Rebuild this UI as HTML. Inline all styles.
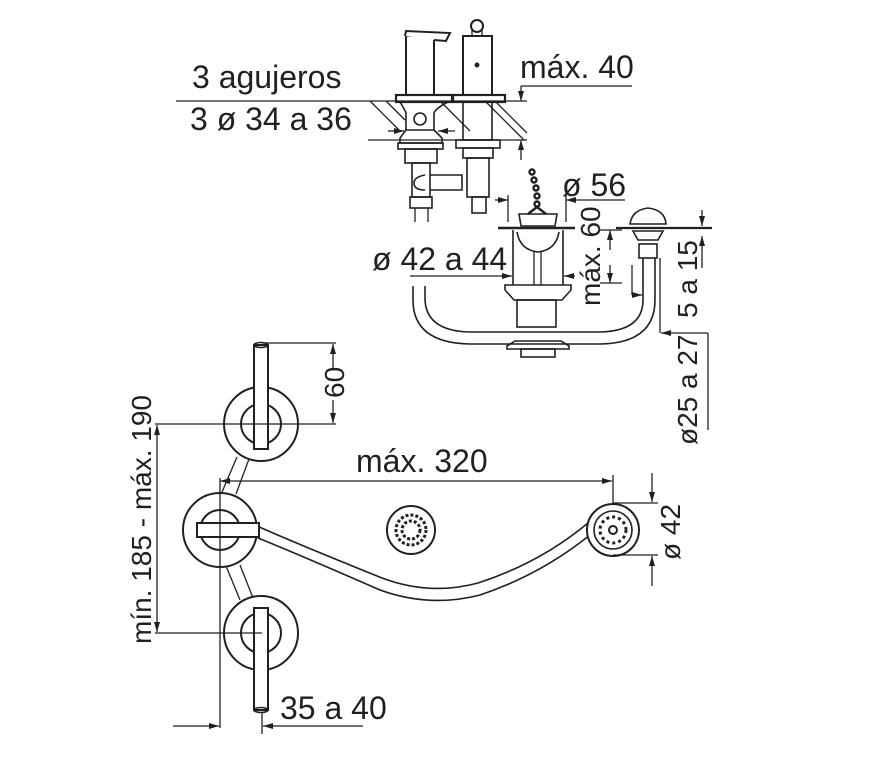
<!DOCTYPE html>
<html><head><meta charset="utf-8"><style>
html,body{margin:0;padding:0;background:#fff}
svg{display:block}
text{font-family:"Liberation Sans",sans-serif;fill:#231f20}
</style></head><body>
<svg width="870" height="768" viewBox="0 0 870 768" xmlns="http://www.w3.org/2000/svg">
<defs>
<marker id="a" viewBox="0 0 10 6" refX="10" refY="3" markerWidth="10" markerHeight="6" orient="auto-start-reverse" markerUnits="userSpaceOnUse"><path d="M0,0 L10,3 L0,6 z" fill="#231f20"/></marker>
</defs>
<g stroke="#231f20" fill="none" stroke-width="1.3">
<line x1="176" y1="101" x2="527" y2="101"/>
<line x1="368" y1="140" x2="527" y2="140"/>
<line x1="370" y1="101" x2="400" y2="131"/>
<line x1="386" y1="101" x2="405" y2="120"/>
<line x1="440" y1="101" x2="470" y2="131"/>
<line x1="495" y1="101" x2="527" y2="133"/>
<line x1="485" y1="101" x2="524" y2="140"/>
<line x1="388" y1="131" x2="404" y2="131" marker-end="url(#a)"/>
<line x1="455" y1="131" x2="438" y2="131" marker-end="url(#a)"/>
<rect x="406" y="36" width="28" height="59" stroke-width="2"/>
<path d="M405,36 L406,31 L450,33 L446,41 L434,40" stroke-width="2" fill="#fff"/>
<rect x="396" y="95" width="56" height="7" stroke-width="2.2"/>
<path d="M400,102 Q405,110 406,113 L406,130 L434,130 L434,113 Q436,108 448,102" stroke-width="1.6"/>
<circle cx="420" cy="119" r="6" stroke-width="1.6"/>
<path d="M406,130 L400,138 L400,143 L442,143 L442,138 L434,130" stroke-width="1.6"/>
<rect x="398" y="143" width="45" height="6" stroke-width="1.6"/>
<rect x="405" y="149" width="32" height="14" stroke-width="1.6"/>
<rect x="412" y="163" width="18" height="34" stroke-width="1.6"/>
<path d="M430,175 L462,175 L462,190 L430,190" stroke-width="1.6"/>
<path d="M425,175 Q414,177 414,183 Q414,190 425,190" stroke-width="1.6"/>
<rect x="410" y="197" width="22" height="11" stroke-width="1.6"/>
<line x1="415" y1="208" x2="415" y2="222"/><line x1="428" y1="208" x2="428" y2="222"/>
<rect x="463" y="36" width="29" height="59" stroke-width="2"/>
<circle cx="477" cy="26" r="6" stroke-width="2"/>
<line x1="472" y1="30" x2="472" y2="36"/><line x1="482" y1="30" x2="482" y2="36"/>
<circle cx="477" cy="65" r="1.8" fill="#231f20"/>
<rect x="453" y="95" width="52" height="7" stroke-width="2.2"/>
<rect x="463" y="102" width="29" height="38" stroke-width="1.6"/>
<rect x="456" y="140" width="44" height="8" stroke-width="1.6"/>
<rect x="463" y="148" width="30" height="10" stroke-width="1.6"/>
<rect x="467" y="158" width="22" height="39" stroke-width="1.6"/>
<rect x="472" y="197" width="14" height="16" stroke-width="1.6"/>
<line x1="632" y1="86" x2="521" y2="86"/>
<line x1="521" y1="86" x2="521" y2="101" marker-end="url(#a)"/>
<line x1="521" y1="160" x2="521" y2="140" marker-end="url(#a)"/>
<line x1="495" y1="200" x2="508" y2="200" marker-end="url(#a)"/>
<line x1="625" y1="200" x2="566" y2="200" marker-end="url(#a)"/>
<line x1="508" y1="195" x2="508" y2="222"/><line x1="566" y1="195" x2="566" y2="222"/>
<line x1="498" y1="228" x2="575" y2="228" stroke-width="2.5"/>
<path d="M513,230 L513,285 M563,230 L563,285" stroke-width="1.6"/>
<path d="M517,232 Q520,250 538,252 Q556,250 559,232" stroke-width="1.6"/>
<line x1="534" y1="252" x2="534" y2="285"/><line x1="541" y1="252" x2="541" y2="285"/>
<path d="M519,214 L557,214 L555,226 L521,226 Z" stroke-width="1.6"/>
<g stroke-width="2.4"><circle cx="532" cy="172" r="2.5"/><circle cx="534" cy="180" r="2.5"/><circle cx="536" cy="188" r="2.5"/><circle cx="537" cy="196" r="2.5"/><circle cx="537" cy="204" r="2.5"/><path d="M537,207 L528,214 M537,207 L546,214"/></g>
<line x1="410" y1="276" x2="512" y2="276" marker-end="url(#a)"/>
<line x1="575" y1="276" x2="564" y2="276" marker-end="url(#a)"/>
<path d="M505,285 L571,285 L571,290 L562,300 L514,300 L505,290 Z" stroke-width="1.6"/>
<rect x="517" y="300" width="39" height="27" stroke-width="1.6"/>
<path d="M515,341 L507,346 L507,349 L569,349 L569,346 L561,341 Z" stroke-width="1.6"/>
<rect x="521" y="349" width="34" height="8" stroke-width="1.6"/>
<path d="M413,286 L413,300 Q413,343 470,344 L600,344 Q655,343 655,300 L655,258" stroke-width="1.6"/>
<path d="M425,286 L425,298 Q425,331 470,332 L600,332 Q643,331 643,300 L643,258" stroke-width="1.6"/>
<path d="M630,224 Q632,210 648,208 Q665,210 666,224 Z" stroke-width="1.6"/>
<line x1="616" y1="228" x2="712" y2="228" stroke-width="2.2"/>
<path d="M633,231 L663,231 L658,240 L638,240 Z" stroke-width="1.6"/>
<rect x="639" y="244" width="18" height="14" stroke-width="1.6"/>
<line x1="600" y1="230" x2="622" y2="230"/><line x1="600" y1="283" x2="622" y2="283"/>
<line x1="610" y1="250" x2="610" y2="230" marker-end="url(#a)"/>
<line x1="610" y1="265" x2="610" y2="283" marker-end="url(#a)"/>
<line x1="702" y1="210" x2="702" y2="226" marker-end="url(#a)"/>
<line x1="702" y1="268" x2="702" y2="236" marker-end="url(#a)"/>
<line x1="632" y1="295" x2="642" y2="295" marker-end="url(#a)"/>
<line x1="632" y1="265" x2="632" y2="295"/>
<line x1="660" y1="258" x2="660" y2="333"/>
<line x1="708" y1="333" x2="661" y2="333" marker-end="url(#a)"/>
<line x1="708" y1="333" x2="708" y2="430"/>
<line x1="237" y1="457" x2="222" y2="492"/><line x1="249" y1="459" x2="236" y2="494"/>
<line x1="226" y1="566" x2="240" y2="600"/><line x1="240" y1="565" x2="253" y2="598"/>
<path d="M258,538 Q300,555 380,590 Q430,608 480,595 Q540,575 590,535" stroke-width="1.6"/>
<path d="M257,526 Q300,545 382,578 Q430,596 478,583 Q540,563 588,523" stroke-width="1.6"/>
<circle cx="261" cy="424" r="37" stroke-width="2" fill="#fff"/>
<circle cx="261" cy="424" r="20" stroke-width="2"/>
<circle cx="220" cy="530" r="37" stroke-width="2" fill="#fff"/>
<circle cx="220" cy="530" r="20" stroke-width="2"/>
<circle cx="261" cy="633" r="37" stroke-width="2" fill="#fff"/>
<circle cx="261" cy="633" r="20" stroke-width="2"/>
<rect x="254" y="345" width="14" height="104" stroke-width="2" fill="#fff"/>
<ellipse cx="261" cy="345" rx="7" ry="2.5" stroke-width="1.6"/>
<rect x="197" y="523" width="62" height="14" stroke-width="2" fill="#fff"/>
<rect x="254" y="608" width="14" height="102" stroke-width="2" fill="#fff"/>
<ellipse cx="261" cy="710" rx="7" ry="2.5" stroke-width="1.6"/>
<circle cx="411" cy="530" r="24" stroke-width="2"/>
<circle cx="411" cy="530" r="15" stroke-width="3" stroke-dasharray="3 2"/>
<circle cx="411" cy="530" r="9" stroke-width="3" stroke-dasharray="3 2"/>
<circle cx="613" cy="530" r="26" stroke-width="2" fill="#fff"/>
<circle cx="613" cy="530" r="19" stroke-width="1.6"/>
<circle cx="613" cy="530" r="13" stroke-width="3" stroke-dasharray="3 3"/>
<circle cx="613" cy="530" r="4" stroke-width="2"/>
<line x1="220" y1="481" x2="612" y2="481" marker-start="url(#a)" marker-end="url(#a)"/>
<line x1="220" y1="478" x2="220" y2="728"/>
<line x1="613" y1="475" x2="613" y2="504"/>
<line x1="262" y1="343" x2="336" y2="343"/>
<line x1="155" y1="424" x2="336" y2="424"/>
<line x1="333" y1="368" x2="333" y2="344" marker-end="url(#a)"/>
<line x1="333" y1="400" x2="333" y2="423" marker-end="url(#a)"/>
<line x1="157" y1="425" x2="157" y2="632" marker-start="url(#a)" marker-end="url(#a)"/>
<line x1="155" y1="633" x2="262" y2="633"/>
<line x1="173" y1="726" x2="219" y2="726" marker-end="url(#a)"/>
<line x1="363" y1="726" x2="263" y2="726" marker-end="url(#a)"/>
<line x1="262" y1="712" x2="262" y2="734"/>
<line x1="613" y1="503" x2="658" y2="503"/>
<line x1="613" y1="555" x2="658" y2="555"/>
<line x1="652" y1="473" x2="652" y2="502" marker-end="url(#a)"/>
<line x1="652" y1="586" x2="652" y2="556" marker-end="url(#a)"/>
</g>
<g font-size="32">
<text x="192" y="88">3 agujeros</text>
<text x="190" y="130">3 ø 34 a 36</text>
<text x="520" y="78">máx. 40</text>
<text x="562" y="196">ø 56</text>
<text x="372" y="270">ø 42 a 44</text>
<text x="356" y="472">máx. 320</text>
<text x="280" y="719">35 a 40</text>
</g>
<g font-size="28">
<text transform="translate(600,306) rotate(-90)">máx. 60</text>
<text transform="translate(697,318) rotate(-90)">5 a 15</text>
<text transform="translate(697,445) rotate(-90)">ø25 a 27</text>
<text transform="translate(344,398) rotate(-90)">60</text>
<text transform="translate(680,560) rotate(-90)">ø 42</text>
<text transform="translate(151,644) rotate(-90)">mín. 185 - máx. 190</text>
</g>
</svg>
</body></html>
